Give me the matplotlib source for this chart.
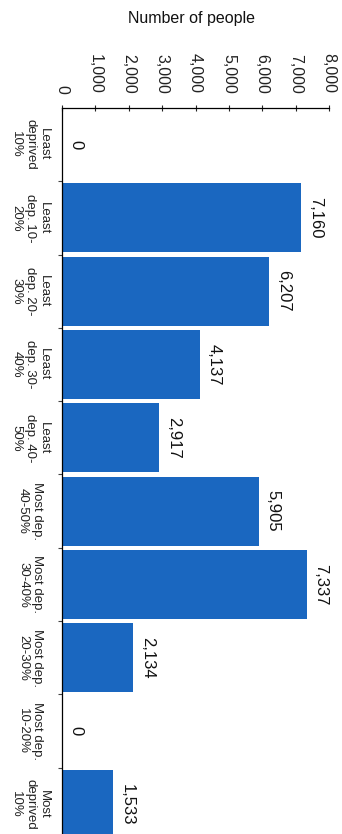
import matplotlib
matplotlib.use("Agg")
import matplotlib.pyplot as plt
from matplotlib.ticker import FuncFormatter, FixedLocator

categories = ["Least\ndeprived\n10%", "Least\ndep. 10-\n20%", "Least\ndep. 20-\n30%",
              "Least\ndep. 30-\n40%", "Least\ndep. 40-\n50%", "Most dep.\n40-50%",
              "Most dep.\n30-40%", "Most dep.\n20-30%", "Most dep.\n10-20%",
              "Most\ndeprived\n10%"]
values = [0, 7160, 6207, 4137, 2917, 5905, 7337, 2134, 0, 1533]
xticks = [0, 1000, 2000, 3000, 4000, 5000, 6000, 7000, 8000]

plt.rcParams['font.family'] = ['Liberation Sans', 'DejaVu Sans']

fig = plt.figure(figsize=(3.42, 8.34), dpi=100)
ax = fig.add_axes([62/342, -7/834, (329-62)/342, (841-108)/834])

pos = list(range(len(values)))
ax.barh(pos, values, height=0.94, color='#1a67c0', zorder=2)
ax.set_ylim(len(values) - 0.5, -0.5)
ax.set_xlim(0, 8000)

for p, v in zip(pos, values):
    ax.text(v + 200, p, f"{v:,}", rotation=-90, ha='left', va='center',
            fontsize=12, color='#111111')

ax.xaxis.tick_top()
ax.set_xticks(xticks)
ax.xaxis.set_major_formatter(FuncFormatter(lambda x, _: f"{int(x):,}"))
ax.tick_params(axis='x', direction='inout', length=5, width=0.8, pad=8,
               labelsize=11.5, labelrotation=-90, colors='#222222')

ax.set_yticks(pos)
ax.set_yticklabels(categories, rotation=-90, fontsize=9.5, ha='center',
                   va='center', multialignment='center', linespacing=1.2)
ax.tick_params(axis='y', length=0, pad=23, colors='#222222')
ax.yaxis.set_minor_locator(FixedLocator([p + 0.5 for p in pos]))
ax.tick_params(axis='y', which='minor', length=3, width=0.8, color='#444444')

for s in ['right', 'bottom']:
    ax.spines[s].set_visible(False)
ax.spines['top'].set_linewidth(0.9)
ax.spines['left'].set_linewidth(0.9)

fig.text(191/342, 1 - 18/834, "Number of people", ha='center', va='center',
         fontsize=11.5, color='#111111')

fig.savefig("out.png", dpi=100)
